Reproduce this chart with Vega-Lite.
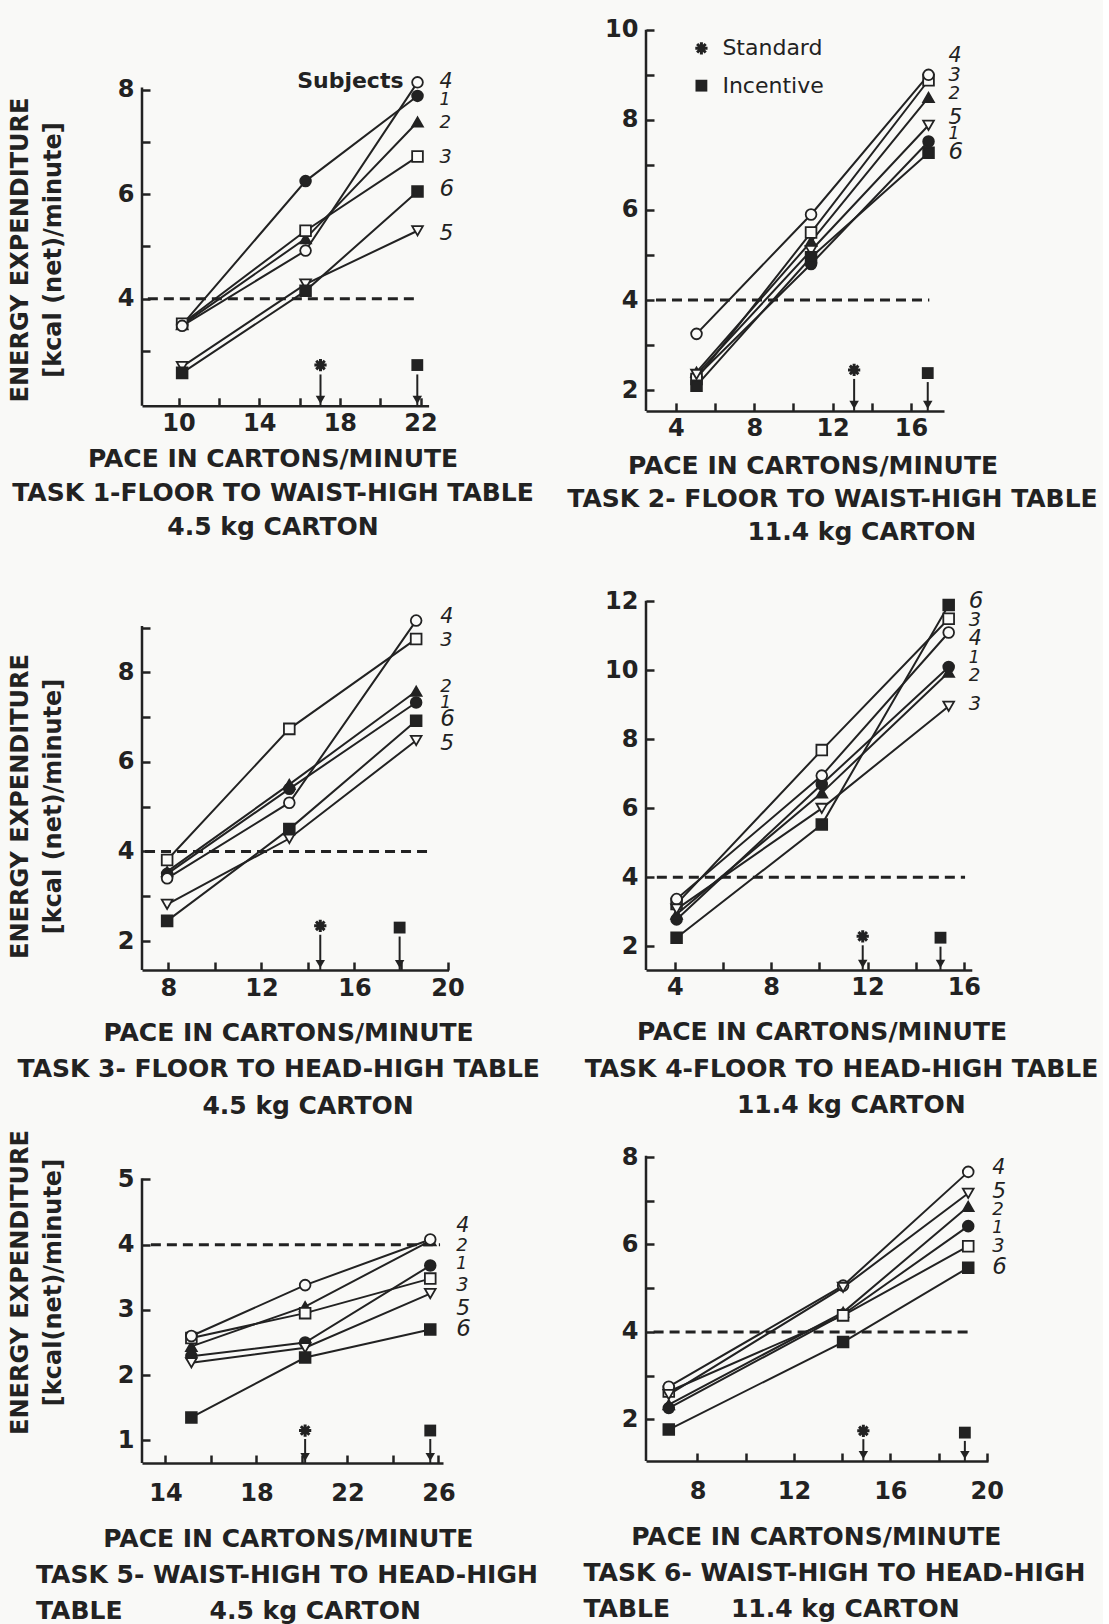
{
"$schema":"https://vega.github.io/schema/vega-lite/v6.json",
"background":"#f9f9f7",
"padding":{"left":7,"top":17,"right":5,"bottom":5},
"bounds":"flush",
"columns":2,
"spacing":{"row":186,"column":197},
"resolve":{"scale":{"x":"independent","y":"independent"}},
"datasets":{
"pt":[
{"p":1,"s":"1","x":10.18,"y":3.5},{"p":1,"s":"1","x":16.3,"y":6.25},{"p":1,"s":"1","x":21.85,"y":7.88},
{"p":1,"s":"2","x":10.18,"y":3.5},{"p":1,"s":"2","x":16.3,"y":5.15},{"p":1,"s":"2","x":21.85,"y":7.38},
{"p":1,"s":"3","x":10.18,"y":3.52},{"p":1,"s":"3","x":16.3,"y":5.3},{"p":1,"s":"3","x":21.85,"y":6.72},
{"p":1,"s":"4","x":10.18,"y":3.48},{"p":1,"s":"4","x":16.3,"y":4.92},{"p":1,"s":"4","x":21.85,"y":8.14},
{"p":1,"s":"5","x":10.18,"y":2.7},{"p":1,"s":"5","x":16.3,"y":4.28},{"p":1,"s":"5","x":21.85,"y":5.3},
{"p":1,"s":"6","x":10.18,"y":2.58},{"p":1,"s":"6","x":16.3,"y":4.15},{"p":1,"s":"6","x":21.85,"y":6.05},
{"p":2,"s":"1","x":5.05,"y":2.3},{"p":2,"s":"1","x":10.9,"y":4.8},{"p":2,"s":"1","x":16.9,"y":7.52},
{"p":2,"s":"2","x":5.05,"y":2.4},{"p":2,"s":"2","x":10.9,"y":5.3},{"p":2,"s":"2","x":16.9,"y":8.5},
{"p":2,"s":"3","x":5.05,"y":2.25},{"p":2,"s":"3","x":10.9,"y":5.5},{"p":2,"s":"3","x":16.9,"y":8.88},
{"p":2,"s":"4","x":5.05,"y":3.25},{"p":2,"s":"4","x":10.9,"y":5.9},{"p":2,"s":"4","x":16.9,"y":9.0},
{"p":2,"s":"5","x":5.05,"y":2.35},{"p":2,"s":"5","x":10.9,"y":5.1},{"p":2,"s":"5","x":16.9,"y":7.88},
{"p":2,"s":"6","x":5.05,"y":2.1},{"p":2,"s":"6","x":10.9,"y":4.95},{"p":2,"s":"6","x":16.9,"y":7.27},
{"p":3,"s":"1","x":7.95,"y":3.5},{"p":3,"s":"1","x":13.2,"y":5.4},{"p":3,"s":"1","x":18.65,"y":7.33},
{"p":3,"s":"2","x":7.95,"y":3.55},{"p":3,"s":"2","x":13.2,"y":5.5},{"p":3,"s":"2","x":18.65,"y":7.58},
{"p":3,"s":"3","x":7.95,"y":3.81},{"p":3,"s":"3","x":13.2,"y":6.74},{"p":3,"s":"3","x":18.65,"y":8.75},
{"p":3,"s":"4","x":7.95,"y":3.4},{"p":3,"s":"4","x":13.2,"y":5.09},{"p":3,"s":"4","x":18.65,"y":9.16},
{"p":3,"s":"5","x":7.95,"y":2.82},{"p":3,"s":"5","x":13.2,"y":4.29},{"p":3,"s":"5","x":18.65,"y":6.48},
{"p":3,"s":"6","x":7.95,"y":2.45},{"p":3,"s":"6","x":13.2,"y":4.5},{"p":3,"s":"6","x":18.65,"y":6.92},
{"p":4,"s":"1","x":4.07,"y":2.78},{"p":4,"s":"1","x":10.1,"y":6.7},{"p":4,"s":"1","x":15.37,"y":10.1},
{"p":4,"s":"2","x":4.07,"y":2.93},{"p":4,"s":"2","x":10.1,"y":6.45},{"p":4,"s":"2","x":15.37,"y":9.95},
{"p":4,"s":"3","x":4.07,"y":3.23},{"p":4,"s":"3","x":10.1,"y":7.69},{"p":4,"s":"3","x":15.37,"y":11.5},
{"p":4,"s":"4","x":4.07,"y":3.37},{"p":4,"s":"4","x":10.1,"y":6.95},{"p":4,"s":"4","x":15.37,"y":11.1},
{"p":4,"s":"5","x":4.07,"y":3.08},{"p":4,"s":"5","x":10.1,"y":6.0},{"p":4,"s":"5","x":15.37,"y":8.96},
{"p":4,"s":"6","x":4.07,"y":2.25},{"p":4,"s":"6","x":10.1,"y":5.53},{"p":4,"s":"6","x":15.37,"y":11.9},
{"p":5,"s":"1","x":15.14,"y":2.29},{"p":5,"s":"1","x":20.14,"y":2.5},{"p":5,"s":"1","x":25.64,"y":3.68},
{"p":5,"s":"2","x":15.14,"y":2.44},{"p":5,"s":"2","x":20.14,"y":3.05},{"p":5,"s":"2","x":25.64,"y":4.06},
{"p":5,"s":"3","x":15.14,"y":2.57},{"p":5,"s":"3","x":20.14,"y":2.95},{"p":5,"s":"3","x":25.64,"y":3.48},
{"p":5,"s":"4","x":15.14,"y":2.6},{"p":5,"s":"4","x":20.14,"y":3.38},{"p":5,"s":"4","x":25.64,"y":4.08},
{"p":5,"s":"5","x":15.14,"y":2.19},{"p":5,"s":"5","x":20.14,"y":2.42},{"p":5,"s":"5","x":25.64,"y":3.25},
{"p":5,"s":"6","x":15.14,"y":1.35},{"p":5,"s":"6","x":20.14,"y":2.27},{"p":5,"s":"6","x":25.64,"y":2.7},
{"p":6,"s":"1","x":6.81,"y":2.26},{"p":6,"s":"1","x":14.04,"y":4.4},{"p":6,"s":"1","x":19.23,"y":6.42},
{"p":6,"s":"2","x":6.81,"y":2.34},{"p":6,"s":"2","x":14.04,"y":4.45},{"p":6,"s":"2","x":19.23,"y":6.87},
{"p":6,"s":"3","x":6.81,"y":2.64},{"p":6,"s":"3","x":14.04,"y":4.38},{"p":6,"s":"3","x":19.23,"y":5.96},
{"p":6,"s":"4","x":6.81,"y":2.75},{"p":6,"s":"4","x":14.04,"y":5.06},{"p":6,"s":"4","x":19.23,"y":7.66},
{"p":6,"s":"5","x":6.81,"y":2.57},{"p":6,"s":"5","x":14.04,"y":5.02},{"p":6,"s":"5","x":19.23,"y":7.17},
{"p":6,"s":"6","x":6.81,"y":1.77},{"p":6,"s":"6","x":14.04,"y":3.77},{"p":6,"s":"6","x":19.23,"y":5.47}
],
"lab":[
{"p":1,"x":21.85,"y":8.15,"t":"4"},{"p":1,"x":21.85,"y":7.8,"t":"1"},{"p":1,"x":21.85,"y":7.37,"t":"2"},{"p":1,"x":21.85,"y":6.71,"t":"3"},{"p":1,"x":21.85,"y":6.1,"t":"6"},{"p":1,"x":21.85,"y":5.26,"t":"5"},
{"p":2,"x":16.9,"y":9.42,"t":"4"},{"p":2,"x":16.9,"y":9.0,"t":"3"},{"p":2,"x":16.9,"y":8.58,"t":"2"},{"p":2,"x":16.9,"y":8.07,"t":"5"},{"p":2,"x":16.9,"y":7.68,"t":"1"},{"p":2,"x":16.9,"y":7.28,"t":"6"},
{"p":3,"x":18.65,"y":9.23,"t":"4"},{"p":3,"x":18.65,"y":8.72,"t":"3"},{"p":3,"x":18.65,"y":7.68,"t":"2"},{"p":3,"x":18.65,"y":7.32,"t":"1"},{"p":3,"x":18.65,"y":6.96,"t":"6"},{"p":3,"x":18.65,"y":6.42,"t":"5"},
{"p":4,"x":15.37,"y":12.02,"t":"6"},{"p":4,"x":15.37,"y":11.47,"t":"3"},{"p":4,"x":15.37,"y":10.9,"t":"4"},{"p":4,"x":15.37,"y":10.35,"t":"1"},{"p":4,"x":15.37,"y":9.83,"t":"2"},{"p":4,"x":15.37,"y":9.04,"t":"3"},
{"p":5,"x":25.64,"y":4.28,"t":"4"},{"p":5,"x":25.64,"y":3.98,"t":"2"},{"p":5,"x":25.64,"y":3.71,"t":"1"},{"p":5,"x":25.64,"y":3.38,"t":"3"},{"p":5,"x":25.64,"y":3.03,"t":"5"},{"p":5,"x":25.64,"y":2.7,"t":"6"},
{"p":6,"x":19.23,"y":7.76,"t":"4"},{"p":6,"x":19.23,"y":7.22,"t":"5"},{"p":6,"x":19.23,"y":6.8,"t":"2"},{"p":6,"x":19.23,"y":6.38,"t":"1"},{"p":6,"x":19.23,"y":5.96,"t":"3"},{"p":6,"x":19.23,"y":5.49,"t":"6"}
],
"ax":[
{"p":1,"x":8.19,"y":1.95,"y2":8.04},{"p":2,"x":2.47,"y":1.54,"y2":10.0},{"p":3,"x":6.87,"y":1.352,"y2":9.04},
{"p":4,"x":2.8,"y":1.316,"y2":12.02},{"p":5,"x":12.97,"y":0.652,"y2":5.02},{"p":6,"x":5.865,"y":1.051,"y2":8.03}
],
"ref":[
{"p":1,"x":8.48,"x2":21.84,"y":4},{"p":2,"x":2.98,"x2":16.94,"y":4},{"p":3,"x":7.0,"x2":19.2,"y":4},
{"p":4,"x":3.25,"x2":16.05,"y":4},{"p":5,"x":13.36,"x2":26.07,"y":4},{"p":6,"x":6.18,"x2":19.37,"y":4}
],
"sh":[
{"p":1,"x":17.04,"y":2.55,"y2":1.95},{"p":1,"x":21.84,"y":2.55,"y2":1.95},
{"p":2,"x":13.1,"y":2.25,"y2":1.54},{"p":2,"x":16.86,"y":2.18,"y2":1.54},
{"p":3,"x":14.53,"y":2.14,"y2":1.352},{"p":3,"x":17.94,"y":2.1,"y2":1.352},
{"p":4,"x":11.8,"y":2.03,"y2":1.316},{"p":4,"x":15.03,"y":1.99,"y2":1.316},
{"p":5,"x":20.14,"y":1.02,"y2":0.652},{"p":5,"x":25.64,"y":1.02,"y2":0.652},
{"p":6,"x":14.88,"y":1.55,"y2":1.051},{"p":6,"x":19.09,"y":1.51,"y2":1.051}
],
"ah":[
{"p":1,"x":17.04,"y":1.95},{"p":1,"x":21.84,"y":1.95},
{"p":2,"x":13.1,"y":1.54},{"p":2,"x":16.86,"y":1.54},
{"p":3,"x":14.53,"y":1.352},{"p":3,"x":17.94,"y":1.352},
{"p":4,"x":11.8,"y":1.316},{"p":4,"x":15.03,"y":1.316},
{"p":5,"x":20.14,"y":0.652},{"p":5,"x":25.64,"y":0.652},
{"p":6,"x":14.88,"y":1.051},{"p":6,"x":19.09,"y":1.051}
],
"sym":[
{"p":1,"k":"std","x":17.04,"y":2.73},{"p":1,"k":"inc","x":21.84,"y":2.73},
{"p":2,"k":"std","x":13.1,"y":2.45},{"p":2,"k":"inc","x":16.86,"y":2.38},
{"p":2,"k":"std","x":5.3,"y":9.59},{"p":2,"k":"inc","x":5.3,"y":8.76},
{"p":3,"k":"std","x":14.53,"y":2.34},{"p":3,"k":"inc","x":17.94,"y":2.3},
{"p":4,"k":"std","x":11.8,"y":2.29},{"p":4,"k":"inc","x":15.03,"y":2.25},
{"p":5,"k":"std","x":20.14,"y":1.15},{"p":5,"k":"inc","x":25.64,"y":1.15},
{"p":6,"k":"std","x":14.88,"y":1.74},{"p":6,"k":"inc","x":19.09,"y":1.7}
],
"txt":[
{"p":1,"x":21.85,"y":8.16,"t":"Subjects"},
{"p":2,"x":5.3,"y":9.59,"t":"Standard"},{"p":2,"x":5.3,"y":8.76,"t":"Incentive"}
]
},
"concat":[
{
"width":286.6,"height":377.8,
"encoding":{
"x":{"field":"x","type":"quantitative","scale":{"domain":[8.19,22.4],"nice":false,"zero":false},
"axis":{"values":[10,12,14,16,18,20,22],"labelExpr":"datum.value % 4 == 2 ? datum.label : ''","labelPadding":14,
"title":["PACE IN CARTONS/MINUTE","TASK 1-FLOOR TO WAIST-HIGH TABLE","4.5 kg CARTON"],"titleX":130.5,"titleY":41,"titleAlign":"center","titleBaseline":"top","titleLineHeight":34}},
"y":{"field":"y","type":"quantitative","scale":{"domain":[1.95,9.18],"nice":false,"zero":false},
"axis":{"values":[3,4,5,6,7,8],"labelExpr":"datum.value % 2 == 0 ? datum.label : ''","domain":false,"labelPadding":16,
"title":["ENERGY EXPENDITURE","[kcal (net)/minute]"],"titleX":-122,"titleY":221.5,"titleAngle":270,"titleAlign":"center","titleBaseline":"middle","titleLineHeight":33,"titleFontSize":24}}
},
"layer":[
{"data":{"name":"ax"},"transform":[{"filter":"datum.p==1"}],"mark":{"type":"rule","strokeWidth":2.5,"color":"#222"},"encoding":{"y2":{"field":"y2"}}},
{"data":{"name":"ref"},"transform":[{"filter":"datum.p==1"}],"mark":{"type":"rule","strokeWidth":3,"strokeDash":[10,6],"color":"#222"},"encoding":{"x2":{"field":"x2"}}},
{"data":{"name":"pt"},"transform":[{"filter":"datum.p==1"}],"mark":{"type":"line","strokeWidth":2,"color":"#222"},"encoding":{"detail":{"field":"s"}}},
{"data":{"name":"pt"},"transform":[{"filter":"datum.p==1"}],"mark":{"type":"point","filled":true,"size":115,"strokeWidth":1.8,"stroke":"#222","opacity":1},
"encoding":{"shape":{"field":"s","type":"nominal","scale":{"domain":["1","2","3","4","5","6"],"range":["circle","triangle-up","square","circle","triangle-down","square"]},"legend":null},
"fill":{"field":"s","type":"nominal","scale":{"domain":["1","2","3","4","5","6"],"range":["#222","#222","#fafaf8","#fafaf8","#fafaf8","#222"]},"legend":null}}},
{"data":{"name":"lab"},"transform":[{"filter":"datum.p==1"}],"mark":{"type":"text","align":"left","baseline":"middle","dx":22,"fontStyle":"italic","font":"DejaVu Sans","color":"#222"},"encoding":{"text":{"field":"t"},"size":{"field":"t","type":"nominal","scale":{"domain":["1","2","3","4","5","6"],"range":[17,23,23,23,23,23]},"legend":null}}},
{"data":{"name":"sh"},"transform":[{"filter":"datum.p==1"}],"mark":{"type":"rule","strokeWidth":2,"color":"#222"},"encoding":{"y2":{"field":"y2"}}},
{"data":{"name":"ah"},"transform":[{"filter":"datum.p==1"}],"mark":{"type":"point","shape":"triangle-down","filled":true,"size":90,"yOffset":-6,"color":"#222","opacity":1}},
{"data":{"name":"sym"},"transform":[{"filter":"datum.p==1 && datum.k=='std'"}],"mark":{"type":"point","shape":"M0,-1L0,1M-1,0L1,0M-0.7,-0.7L0.7,0.7M-0.7,0.7L0.7,-0.7","size":150,"filled":false,"strokeWidth":3,"color":"#222","opacity":1}},
{"data":{"name":"sym"},"transform":[{"filter":"datum.p==1 && datum.k=='inc'"}],"mark":{"type":"point","shape":"square","size":140,"filled":true,"color":"#222","opacity":1}},
{"data":{"name":"txt"},"transform":[{"filter":"datum.p==1"}],"mark":{"type":"text","align":"right","baseline":"middle","dx":-14,"fontSize":22,"fontWeight":"bold","font":"DejaVu Sans","color":"#222"},"encoding":{"text":{"field":"t"}}}
]
},
{
"width":298,"height":382.9,
"encoding":{
"x":{"field":"x","type":"quantitative","scale":{"domain":[2.47,17.69],"nice":false,"zero":false},
"axis":{"values":[4,6,8,10,12,14,16],"labelExpr":"datum.value % 4 == 0 ? datum.label : ''","labelPadding":14,
"title":["PACE IN CARTONS/MINUTE\u2800\u2800","TASK 2- FLOOR TO WAIST-HIGH TABLE","\u2800\u2800\u280011.4 kg CARTON"],"titleX":186,"titleY":43,"titleAlign":"center","titleBaseline":"top","titleLineHeight":33}},
"y":{"field":"y","type":"quantitative","scale":{"domain":[1.54,10.04],"nice":false,"zero":false},
"axis":{"values":[2,3,4,5,6,7,8,9,10],"labelExpr":"datum.value % 2 == 0 ? datum.label : ''","domain":false,"labelPadding":16,"title":null}}
},
"layer":[
{"data":{"name":"ax"},"transform":[{"filter":"datum.p==2"}],"mark":{"type":"rule","strokeWidth":2.5,"color":"#222"},"encoding":{"y2":{"field":"y2"}}},
{"data":{"name":"ref"},"transform":[{"filter":"datum.p==2"}],"mark":{"type":"rule","strokeWidth":3,"strokeDash":[10,6],"color":"#222"},"encoding":{"x2":{"field":"x2"}}},
{"data":{"name":"pt"},"transform":[{"filter":"datum.p==2"}],"mark":{"type":"line","strokeWidth":2,"color":"#222"},"encoding":{"detail":{"field":"s"}}},
{"data":{"name":"pt"},"transform":[{"filter":"datum.p==2"}],"mark":{"type":"point","filled":true,"size":115,"strokeWidth":1.8,"stroke":"#222","opacity":1},
"encoding":{"shape":{"field":"s","type":"nominal","scale":{"domain":["1","2","3","4","5","6"],"range":["circle","triangle-up","square","circle","triangle-down","square"]},"legend":null},
"fill":{"field":"s","type":"nominal","scale":{"domain":["1","2","3","4","5","6"],"range":["#222","#222","#fafaf8","#fafaf8","#fafaf8","#222"]},"legend":null}}},
{"data":{"name":"lab"},"transform":[{"filter":"datum.p==2"}],"mark":{"type":"text","align":"left","baseline":"middle","dx":20,"fontStyle":"italic","font":"DejaVu Sans","color":"#222"},"encoding":{"text":{"field":"t"},"size":{"field":"t","type":"nominal","scale":{"domain":["1","2","3","4","5","6"],"range":[16,21,21,21,21,21]},"legend":null}}},
{"data":{"name":"sh"},"transform":[{"filter":"datum.p==2"}],"mark":{"type":"rule","strokeWidth":2,"color":"#222"},"encoding":{"y2":{"field":"y2"}}},
{"data":{"name":"ah"},"transform":[{"filter":"datum.p==2"}],"mark":{"type":"point","shape":"triangle-down","filled":true,"size":90,"yOffset":-6,"color":"#222","opacity":1}},
{"data":{"name":"sym"},"transform":[{"filter":"datum.p==2 && datum.k=='std'"}],"mark":{"type":"point","shape":"M0,-1L0,1M-1,0L1,0M-0.7,-0.7L0.7,0.7M-0.7,0.7L0.7,-0.7","size":150,"filled":false,"strokeWidth":3,"color":"#222","opacity":1}},
{"data":{"name":"sym"},"transform":[{"filter":"datum.p==2 && datum.k=='inc'"}],"mark":{"type":"point","shape":"square","size":140,"filled":true,"color":"#222","opacity":1}},
{"data":{"name":"txt"},"transform":[{"filter":"datum.p==2"}],"mark":{"type":"text","align":"left","baseline":"middle","dx":21,"fontSize":22,"font":"DejaVu Sans","color":"#222"},"encoding":{"text":{"field":"t"}}}
]
},
{
"width":306.5,"height":373,
"encoding":{
"x":{"field":"x","type":"quantitative","scale":{"domain":[6.87,20.04],"nice":false,"zero":false},
"axis":{"values":[8,10,12,14,16,18,20],"labelExpr":"datum.value % 4 == 0 ? datum.label : ''","labelPadding":14,
"title":["PACE IN CARTONS/MINUTE","TASK 3- FLOOR TO HEAD-HIGH TABLE\u2800","\u2800\u28004.5 kg CARTON"],"titleX":146,"titleY":50,"titleAlign":"center","titleBaseline":"top","titleLineHeight":36.5}},
"y":{"field":"y","type":"quantitative","scale":{"domain":[1.352,9.687],"nice":false,"zero":false},
"axis":{"values":[2,3,4,5,6,7,8,9],"labelExpr":"datum.value % 2 == 0 ? datum.label : ''","domain":false,"labelPadding":16,
"title":["ENERGY EXPENDITURE","[kcal (net)/minute]"],"titleX":-122,"titleY":209,"titleAngle":270,"titleAlign":"center","titleBaseline":"middle","titleLineHeight":33,"titleFontSize":24}}
},
"layer":[
{"data":{"name":"ax"},"transform":[{"filter":"datum.p==3"}],"mark":{"type":"rule","strokeWidth":2.5,"color":"#222"},"encoding":{"y2":{"field":"y2"}}},
{"data":{"name":"ref"},"transform":[{"filter":"datum.p==3"}],"mark":{"type":"rule","strokeWidth":3,"strokeDash":[10,6],"color":"#222"},"encoding":{"x2":{"field":"x2"}}},
{"data":{"name":"pt"},"transform":[{"filter":"datum.p==3"}],"mark":{"type":"line","strokeWidth":2,"color":"#222"},"encoding":{"detail":{"field":"s"}}},
{"data":{"name":"pt"},"transform":[{"filter":"datum.p==3"}],"mark":{"type":"point","filled":true,"size":115,"strokeWidth":1.8,"stroke":"#222","opacity":1},
"encoding":{"shape":{"field":"s","type":"nominal","scale":{"domain":["1","2","3","4","5","6"],"range":["circle","triangle-up","square","circle","triangle-down","square"]},"legend":null},
"fill":{"field":"s","type":"nominal","scale":{"domain":["1","2","3","4","5","6"],"range":["#222","#222","#fafaf8","#fafaf8","#fafaf8","#222"]},"legend":null}}},
{"data":{"name":"lab"},"transform":[{"filter":"datum.p==3"}],"mark":{"type":"text","align":"left","baseline":"middle","dx":24,"fontStyle":"italic","font":"DejaVu Sans","color":"#222"},"encoding":{"text":{"field":"t"},"size":{"field":"t","type":"nominal","scale":{"domain":["1","2","3","4","5","6"],"range":[15,23,23,23,23,23]},"legend":null}}},
{"data":{"name":"sh"},"transform":[{"filter":"datum.p==3"}],"mark":{"type":"rule","strokeWidth":2,"color":"#222"},"encoding":{"y2":{"field":"y2"}}},
{"data":{"name":"ah"},"transform":[{"filter":"datum.p==3"}],"mark":{"type":"point","shape":"triangle-down","filled":true,"size":90,"yOffset":-6,"color":"#222","opacity":1}},
{"data":{"name":"sym"},"transform":[{"filter":"datum.p==3 && datum.k=='std'"}],"mark":{"type":"point","shape":"M0,-1L0,1M-1,0L1,0M-0.7,-0.7L0.7,0.7M-0.7,0.7L0.7,-0.7","size":150,"filled":false,"strokeWidth":3,"color":"#222","opacity":1}},
{"data":{"name":"sym"},"transform":[{"filter":"datum.p==3 && datum.k=='inc'"}],"mark":{"type":"point","shape":"square","size":140,"filled":true,"color":"#222","opacity":1}}
]
},
{
"width":325.8,"height":372.9,
"encoding":{
"x":{"field":"x","type":"quantitative","scale":{"domain":[2.8,16.33],"nice":false,"zero":false},
"axis":{"values":[4,6,8,10,12,14,16],"labelExpr":"datum.value % 4 == 0 ? datum.label : ''","labelPadding":14,
"title":["PACE IN CARTONS/MINUTE\u2800\u2800","TASK 4-FLOOR TO HEAD-HIGH TABLE","\u280011.4 kg CARTON"],"titleX":195,"titleY":50,"titleAlign":"center","titleBaseline":"top","titleLineHeight":36.5}},
"y":{"field":"y","type":"quantitative","scale":{"domain":[1.316,12.13],"nice":false,"zero":false},
"axis":{"values":[2,4,6,8,10,12],"domain":false,"labelPadding":16,"title":null}}
},
"layer":[
{"data":{"name":"ax"},"transform":[{"filter":"datum.p==4"}],"mark":{"type":"rule","strokeWidth":2.5,"color":"#222"},"encoding":{"y2":{"field":"y2"}}},
{"data":{"name":"ref"},"transform":[{"filter":"datum.p==4"}],"mark":{"type":"rule","strokeWidth":3,"strokeDash":[10,6],"color":"#222"},"encoding":{"x2":{"field":"x2"}}},
{"data":{"name":"pt"},"transform":[{"filter":"datum.p==4"}],"mark":{"type":"line","strokeWidth":2,"color":"#222"},"encoding":{"detail":{"field":"s"}}},
{"data":{"name":"pt"},"transform":[{"filter":"datum.p==4"}],"mark":{"type":"point","filled":true,"size":115,"strokeWidth":1.8,"stroke":"#222","opacity":1},
"encoding":{"shape":{"field":"s","type":"nominal","scale":{"domain":["1","2","3","4","5","6"],"range":["circle","triangle-up","square","circle","triangle-down","square"]},"legend":null},
"fill":{"field":"s","type":"nominal","scale":{"domain":["1","2","3","4","5","6"],"range":["#222","#222","#fafaf8","#fafaf8","#fafaf8","#222"]},"legend":null}}},
{"data":{"name":"lab"},"transform":[{"filter":"datum.p==4"}],"mark":{"type":"text","align":"left","baseline":"middle","dx":20,"fontStyle":"italic","font":"DejaVu Sans","color":"#222"},"encoding":{"text":{"field":"t"},"size":{"field":"t","type":"nominal","scale":{"domain":["1","2","3","4","5","6"],"range":[16,21,21,21,21,21]},"legend":null}}},
{"data":{"name":"sh"},"transform":[{"filter":"datum.p==4"}],"mark":{"type":"rule","strokeWidth":2,"color":"#222"},"encoding":{"y2":{"field":"y2"}}},
{"data":{"name":"ah"},"transform":[{"filter":"datum.p==4"}],"mark":{"type":"point","shape":"triangle-down","filled":true,"size":90,"yOffset":-6,"color":"#222","opacity":1}},
{"data":{"name":"sym"},"transform":[{"filter":"datum.p==4 && datum.k=='std'"}],"mark":{"type":"point","shape":"M0,-1L0,1M-1,0L1,0M-0.7,-0.7L0.7,0.7M-0.7,0.7L0.7,-0.7","size":150,"filled":false,"strokeWidth":3,"color":"#222","opacity":1}},
{"data":{"name":"sym"},"transform":[{"filter":"datum.p==4 && datum.k=='inc'"}],"mark":{"type":"point","shape":"square","size":140,"filled":true,"color":"#222","opacity":1}}
]
},
{
"width":301,"height":307,
"encoding":{
"x":{"field":"x","type":"quantitative","scale":{"domain":[12.97,26.2],"nice":false,"zero":false},
"axis":{"values":[14,16,18,20,22,24,26],"labelExpr":"datum.value % 4 == 2 ? datum.label : ''","labelPadding":26,
"title":["\u2800\u2800\u2800\u00a0PACE IN CARTONS/MINUTE","TASK 5- WAIST-HIGH TO HEAD-HIGH","TABLE\u00a0\u00a0\u00a0\u00a0\u00a0\u00a0\u00a0\u00a0\u00a0\u00a04.5 kg CARTON"],"titleX":-106.5,"titleY":63,"titleAlign":"left","titleBaseline":"top","titleLineHeight":36}},
"y":{"field":"y","type":"quantitative","scale":{"domain":[0.652,5.36],"nice":false,"zero":false},
"axis":{"values":[1,2,3,4,5],"domain":false,"labelPadding":16,
"title":["ENERGY EXPENDITURE","[kcal(net)/minute]"],"titleX":-122,"titleY":126,"titleAngle":270,"titleAlign":"center","titleBaseline":"middle","titleLineHeight":33,"titleFontSize":24}}
},
"layer":[
{"data":{"name":"ax"},"transform":[{"filter":"datum.p==5"}],"mark":{"type":"rule","strokeWidth":2.5,"color":"#222"},"encoding":{"y2":{"field":"y2"}}},
{"data":{"name":"ref"},"transform":[{"filter":"datum.p==5"}],"mark":{"type":"rule","strokeWidth":3,"strokeDash":[10,6],"color":"#222"},"encoding":{"x2":{"field":"x2"}}},
{"data":{"name":"pt"},"transform":[{"filter":"datum.p==5"}],"mark":{"type":"line","strokeWidth":2,"color":"#222"},"encoding":{"detail":{"field":"s"}}},
{"data":{"name":"pt"},"transform":[{"filter":"datum.p==5"}],"mark":{"type":"point","filled":true,"size":115,"strokeWidth":1.8,"stroke":"#222","opacity":1},
"encoding":{"shape":{"field":"s","type":"nominal","scale":{"domain":["1","2","3","4","5","6"],"range":["circle","triangle-up","square","circle","triangle-down","square"]},"legend":null},
"fill":{"field":"s","type":"nominal","scale":{"domain":["1","2","3","4","5","6"],"range":["#222","#222","#fafaf8","#fafaf8","#fafaf8","#222"]},"legend":null}}},
{"data":{"name":"lab"},"transform":[{"filter":"datum.p==5"}],"mark":{"type":"text","align":"left","baseline":"middle","dx":26,"fontStyle":"italic","font":"DejaVu Sans","color":"#222"},"encoding":{"text":{"field":"t"},"size":{"field":"t","type":"nominal","scale":{"domain":["1","2","3","4","5","6"],"range":[18,22,22,22,22,22]},"legend":null}}},
{"data":{"name":"sh"},"transform":[{"filter":"datum.p==5"}],"mark":{"type":"rule","strokeWidth":2,"color":"#222"},"encoding":{"y2":{"field":"y2"}}},
{"data":{"name":"ah"},"transform":[{"filter":"datum.p==5"}],"mark":{"type":"point","shape":"triangle-down","filled":true,"size":90,"yOffset":-6,"color":"#222","opacity":1}},
{"data":{"name":"sym"},"transform":[{"filter":"datum.p==5 && datum.k=='std'"}],"mark":{"type":"point","shape":"M0,-1L0,1M-1,0L1,0M-0.7,-0.7L0.7,0.7M-0.7,0.7L0.7,-0.7","size":150,"filled":false,"strokeWidth":3,"color":"#222","opacity":1}},
{"data":{"name":"sym"},"transform":[{"filter":"datum.p==5 && datum.k=='inc'"}],"mark":{"type":"point","shape":"square","size":140,"filled":true,"color":"#222","opacity":1}}
]
},
{
"width":342,"height":305,
"encoding":{
"x":{"field":"x","type":"quantitative","scale":{"domain":[5.865,20.05],"nice":false,"zero":false},
"axis":{"values":[8,10,12,14,16,18,20],"labelExpr":"datum.value % 4 == 0 ? datum.label : ''","labelPadding":26,
"title":["\u2800\u2800\u00a0PACE IN CARTONS/MINUTE","TASK 6- WAIST-HIGH TO HEAD-HIGH","TABLE\u00a0\u00a0\u00a0\u00a0\u00a0\u00a0\u00a011.4 kg CARTON"],"titleX":-63,"titleY":63,"titleAlign":"left","titleBaseline":"top","titleLineHeight":36}},
"y":{"field":"y","type":"quantitative","scale":{"domain":[1.051,8.023],"nice":false,"zero":false},
"axis":{"values":[2,3,4,5,6,7,8],"labelExpr":"datum.value % 2 == 0 ? datum.label : ''","domain":false,"labelPadding":16,"title":null}}
},
"layer":[
{"data":{"name":"ax"},"transform":[{"filter":"datum.p==6"}],"mark":{"type":"rule","strokeWidth":2.5,"color":"#222"},"encoding":{"y2":{"field":"y2"}}},
{"data":{"name":"ref"},"transform":[{"filter":"datum.p==6"}],"mark":{"type":"rule","strokeWidth":3,"strokeDash":[10,6],"color":"#222"},"encoding":{"x2":{"field":"x2"}}},
{"data":{"name":"pt"},"transform":[{"filter":"datum.p==6"}],"mark":{"type":"line","strokeWidth":2,"color":"#222"},"encoding":{"detail":{"field":"s"}}},
{"data":{"name":"pt"},"transform":[{"filter":"datum.p==6"}],"mark":{"type":"point","filled":true,"size":115,"strokeWidth":1.8,"stroke":"#222","opacity":1},
"encoding":{"shape":{"field":"s","type":"nominal","scale":{"domain":["1","2","3","4","5","6"],"range":["circle","triangle-up","square","circle","triangle-down","square"]},"legend":null},
"fill":{"field":"s","type":"nominal","scale":{"domain":["1","2","3","4","5","6"],"range":["#222","#222","#fafaf8","#fafaf8","#fafaf8","#222"]},"legend":null}}},
{"data":{"name":"lab"},"transform":[{"filter":"datum.p==6"}],"mark":{"type":"text","align":"left","baseline":"middle","dx":24,"fontStyle":"italic","font":"DejaVu Sans","color":"#222"},"encoding":{"text":{"field":"t"},"size":{"field":"t","type":"nominal","scale":{"domain":["1","2","3","4","5","6"],"range":[18,21,21,21,21,21]},"legend":null}}},
{"data":{"name":"sh"},"transform":[{"filter":"datum.p==6"}],"mark":{"type":"rule","strokeWidth":2,"color":"#222"},"encoding":{"y2":{"field":"y2"}}},
{"data":{"name":"ah"},"transform":[{"filter":"datum.p==6"}],"mark":{"type":"point","shape":"triangle-down","filled":true,"size":90,"yOffset":-6,"color":"#222","opacity":1}},
{"data":{"name":"sym"},"transform":[{"filter":"datum.p==6 && datum.k=='std'"}],"mark":{"type":"point","shape":"M0,-1L0,1M-1,0L1,0M-0.7,-0.7L0.7,0.7M-0.7,0.7L0.7,-0.7","size":150,"filled":false,"strokeWidth":3,"color":"#222","opacity":1}},
{"data":{"name":"sym"},"transform":[{"filter":"datum.p==6 && datum.k=='inc'"}],"mark":{"type":"point","shape":"square","size":140,"filled":true,"color":"#222","opacity":1}}
]
}
],
"config":{
"view":{"stroke":null},
"axis":{"grid":false,"domainColor":"#222","domainWidth":2.5,"tickColor":"#222","tickWidth":2.5,"tickSize":-8,"labelFlush":false,"labelOverlap":false,
"labelFont":"DejaVu Sans","labelFontSize":24,"labelFontWeight":"bold","labelColor":"#222",
"titleFont":"DejaVu Sans","titleFontSize":25,"titleFontWeight":"bold","titleColor":"#222"},
"text":{"font":"DejaVu Sans","color":"#222"}
}
}
